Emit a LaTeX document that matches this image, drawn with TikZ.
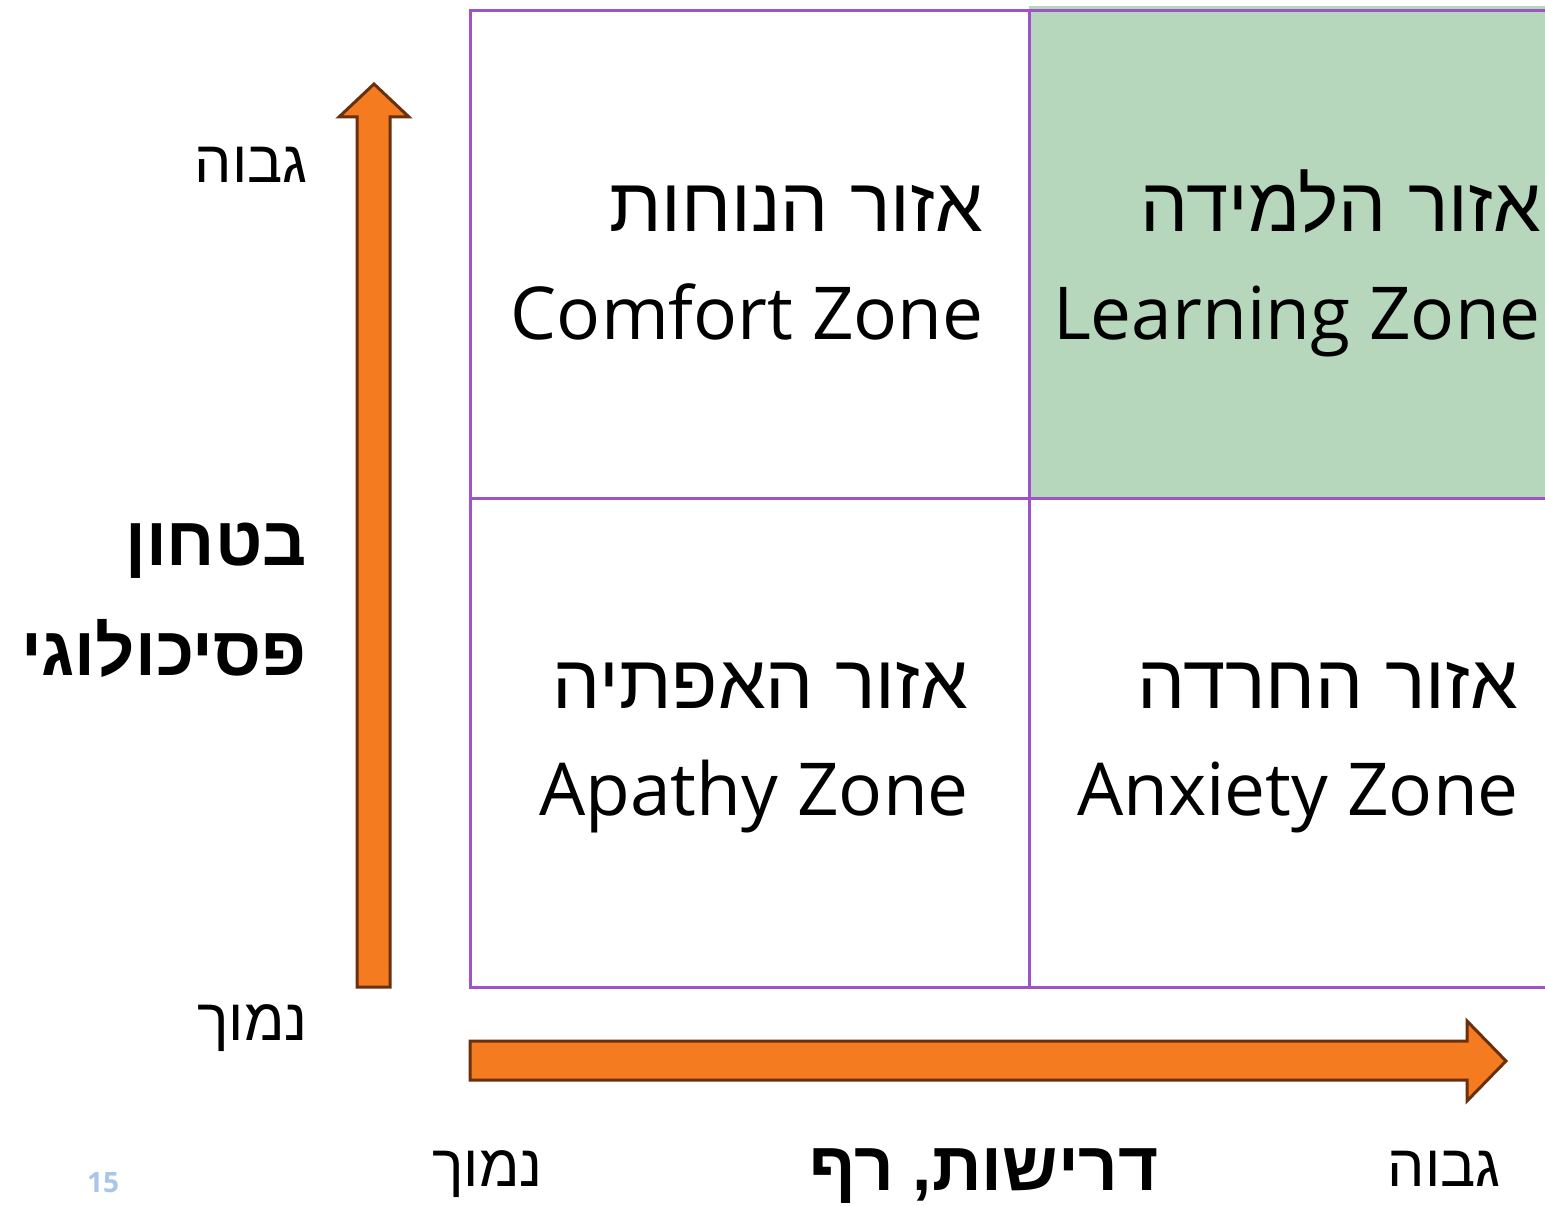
\documentclass[tikz,border=0pt]{standalone}
\usepackage{fontspec}
\usepackage{tikz}
\TeXXeTstate=1
\newfontfamily\hebfont[Script=Hebrew]{Liberation Sans}
\newfontfamily\engfont{Open Sans}
\definecolor{gridpurple}{RGB}{160,82,200}
\definecolor{zonegreen}{RGB}{183,215,188}
\definecolor{arroworange}{RGB}{244,123,32}
\definecolor{arrowbrown}{RGB}{105,48,14}
\definecolor{pageblue}{RGB}{168,198,232}
\newcommand{\heb}[1]{\hebfont\beginR #1\endR}

\begin{document}
\begin{tikzpicture}[
x=1pt,
y=-1pt,
grid line/.style={draw=gridpurple,line width=3pt},
block arrow/.style={fill=arroworange,draw=arrowbrown,line width=3pt,line join=miter},
zone heb/.style={anchor=base east,inner sep=0pt,
								font=\fontsize{76}{80}\selectfont},
zone eng/.style={anchor=base east,inner sep=0pt,
								font=\engfont\fontsize{73}{80}\selectfont},
axis end/.style={anchor=base east,inner sep=0pt,
								font=\fontsize{59}{64}\selectfont},
axis title/.style={anchor=base east,inner sep=0pt,
								font=\bfseries\fontsize{69}{80}\selectfont}]
\useasboundingbox (0,0) rectangle (1545,1206);
%grid
  \fill[zonegreen] (1029,6) rectangle (1545,498);
  \draw[grid line] (1545,11) -- (470,11) -- (470,987) -- (1545,987);
  \draw[grid line] (1029,11) -- (1029,987);
  \draw[grid line] (470,498) -- (1545,498);
%arrows
  \draw[block arrow] (357,987) -- (357,117) -- (339,117) -- (374,84)
    -- (409,117) -- (390,117) -- (390,987) -- cycle;
  \draw[block arrow] (470,1041) -- (1467,1041) -- (1467,1021) -- (1506,1061)
    -- (1467,1101) -- (1467,1080) -- (470,1080) -- cycle;
%comfort
  \node[zone heb] (comfort heb) at (983,232) {\heb{אזור הנוחות}};
  \node[zone eng] (comfort eng) at (984,340) {Comfort Zone};
%learning
  \node[zone heb] (learning heb) at (1541,232) {\heb{אזור הלמידה}};
  \node[zone eng] (learning eng) at (1541,340) {Learning Zone};
%apathy
  \node[zone heb] (apathy heb) at (968,708) {\heb{אזור האפתיה}};
  \node[zone eng] (apathy eng) at (969,815) {Apathy Zone};
%anxiety
  \node[zone heb] (anxiety heb) at (1518,708) {\heb{אזור החרדה}};
  \node[zone eng] (anxiety eng) at (1519,815) {Anxiety Zone};
%vertical axis
  \node[axis end] (y high) at (308,183) {\heb{גבוה}};
  \node[axis end] (y low) at (308,1040) {\heb{נמוך}};
  \node[axis title] (y title 1) at (307,565) {\heb{בטחון}};
  \node[axis title] (y title 2) at (307,675) {\heb{פסיכולוגי}};
%horizontal axis
  \node[axis end] (x low) at (543,1186) {\heb{נמוך}};
  \node[axis end] (x high) at (1501,1186) {\heb{גבוה}};
  \node[axis title] (x title) at (1159,1190) {\heb{דרישות, רף}};
%page
  \node[inner sep=0pt,text=pageblue,font=\engfont\bfseries\fontsize{28}{30}\selectfont]
    (page) at (103,1183) {15};
\end{tikzpicture}
\end{document}
